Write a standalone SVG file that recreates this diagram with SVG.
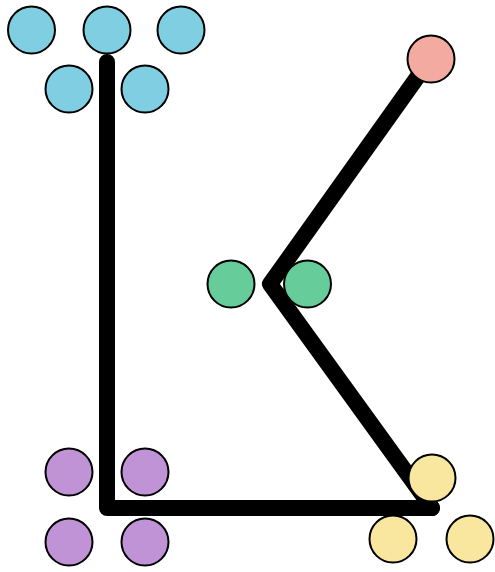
<svg xmlns="http://www.w3.org/2000/svg" width="495" height="572" viewBox="0 0 495 572">
<style>
.n{stroke:#000;stroke-width:2}
.b{fill:#80cee1}.g{fill:#66cc99}.p{fill:#bf93d6}.y{fill:#f9e69f}.r{fill:#f2aaa1}
.e{fill:none;stroke:#000;stroke-width:16;stroke-linecap:round;stroke-linejoin:round}
</style>
<rect width="495" height="572" fill="#fff"/>
<g id="connectors">
<path class="e" d="M107,62 L107,508 L432,508"/>
<path class="e" d="M431,58 L270,284 L432,508"/>
</g>
<g id="b1"><circle class="n b" cx="31.5" cy="30" r="23.5"/></g>
<g id="b2"><circle class="n b" cx="107" cy="30" r="23.5"/></g>
<g id="b3"><circle class="n b" cx="181" cy="30" r="23.5"/></g>
<g id="b4"><circle class="n b" cx="69" cy="89" r="23.5"/></g>
<g id="b5"><circle class="n b" cx="145" cy="89" r="23.5"/></g>
<g id="r1"><circle class="n r" cx="431" cy="59" r="23.5"/></g>
<g id="g1"><circle class="n g" cx="231" cy="284" r="23.5"/></g>
<g id="g2"><circle class="n g" cx="307.5" cy="284" r="23.5"/></g>
<g id="p1"><circle class="n p" cx="69" cy="472" r="23.5"/></g>
<g id="p2"><circle class="n p" cx="145" cy="472" r="23.5"/></g>
<g id="p3"><circle class="n p" cx="69" cy="542" r="23.5"/></g>
<g id="p4"><circle class="n p" cx="145" cy="542" r="23.5"/></g>
<g id="y1"><circle class="n y" cx="432" cy="478" r="23.5"/></g>
<g id="y2"><circle class="n y" cx="393" cy="539" r="23.5"/></g>
<g id="y3"><circle class="n y" cx="470" cy="539" r="23.5"/></g>
</svg>
